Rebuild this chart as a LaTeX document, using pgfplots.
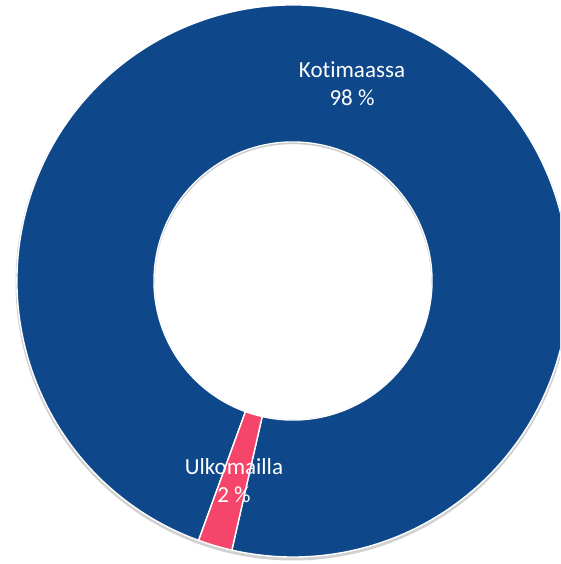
\documentclass[border=0pt]{standalone}
\usepackage{pgfplots}
\pgfplotsset{compat=1.18}
\usepackage{pgfplotstable}
\usepackage{fontspec}
\setmainfont{Carlito}[Ligatures={NoCommon}]

\definecolor{kblue}{HTML}{0E488A}
\definecolor{kpink}{HTML}{F6456B}

% share of each slice, in percent
\pgfplotstableread{
name share
Kotimaassa 98
Ulkomailla 2
}\donut

\begin{document}
\begin{tikzpicture}
% slice angles, clockwise from the first-slice angle
\pgfplotstablegetelem{0}{share}\of\donut \pgfmathsetmacro{\sA}{\pgfplotsretval}
\pgfplotstablegetelem{1}{share}\of\donut \pgfmathsetmacro{\sB}{\pgfplotsretval}
\pgfmathsetmacro{\aZero}{250}
\pgfmathsetmacro{\aOne}{\aZero-3.6*\sA}
\pgfmathsetmacro{\aTwo}{\aOne-3.6*\sB}
\def\Ro{276pt}
\def\Ri{139pt}
\begin{axis}[
  x=1pt, y=1pt,
  xmin=0, xmax=560, ymin=0, ymax=564,
  hide axis,
  clip=true,
]
% soft shadow under the ring
\fill[black!18] (axis cs:293,281) circle[radius=277.5pt];
% Kotimaassa
\fill[kblue, draw=white, line width=1.4pt]
  (axis cs:293,283) ++(\aZero:\Ro) arc[start angle=\aZero, end angle=\aOne, radius=\Ro]
  -- ([shift={(\aOne:\Ri)}]axis cs:293,283)
  arc[start angle=\aOne, end angle=\aZero, radius=\Ri] -- cycle;
% Ulkomailla
\fill[kpink, draw=white, line width=1.4pt]
  (axis cs:293,283) ++(\aOne:\Ro) arc[start angle=\aOne, end angle=\aTwo, radius=\Ro]
  -- ([shift={(\aTwo:\Ri)}]axis cs:293,283)
  arc[start angle=\aTwo, end angle=\aOne, radius=\Ri] -- cycle;
% hole, with a faint inner shadow at its top
\fill[white] (axis cs:293,283) circle[radius=138.3pt];
\begin{scope}
  \clip (axis cs:293,283) circle[radius=138.3pt];
  \draw[black!20, line width=2.5pt] (axis cs:293,281.6) circle[radius=139.5pt];
\end{scope}
\node[white, align=center, font=\fontsize{23}{28}\selectfont]
  at (axis cs:352,480) {Kotimaassa\\98 \%};
\node[white, align=center, font=\fontsize{23}{28}\selectfont]
  at (axis cs:234,83) {Ulkomailla\\2 \%};
\end{axis}
\end{tikzpicture}
\end{document}
